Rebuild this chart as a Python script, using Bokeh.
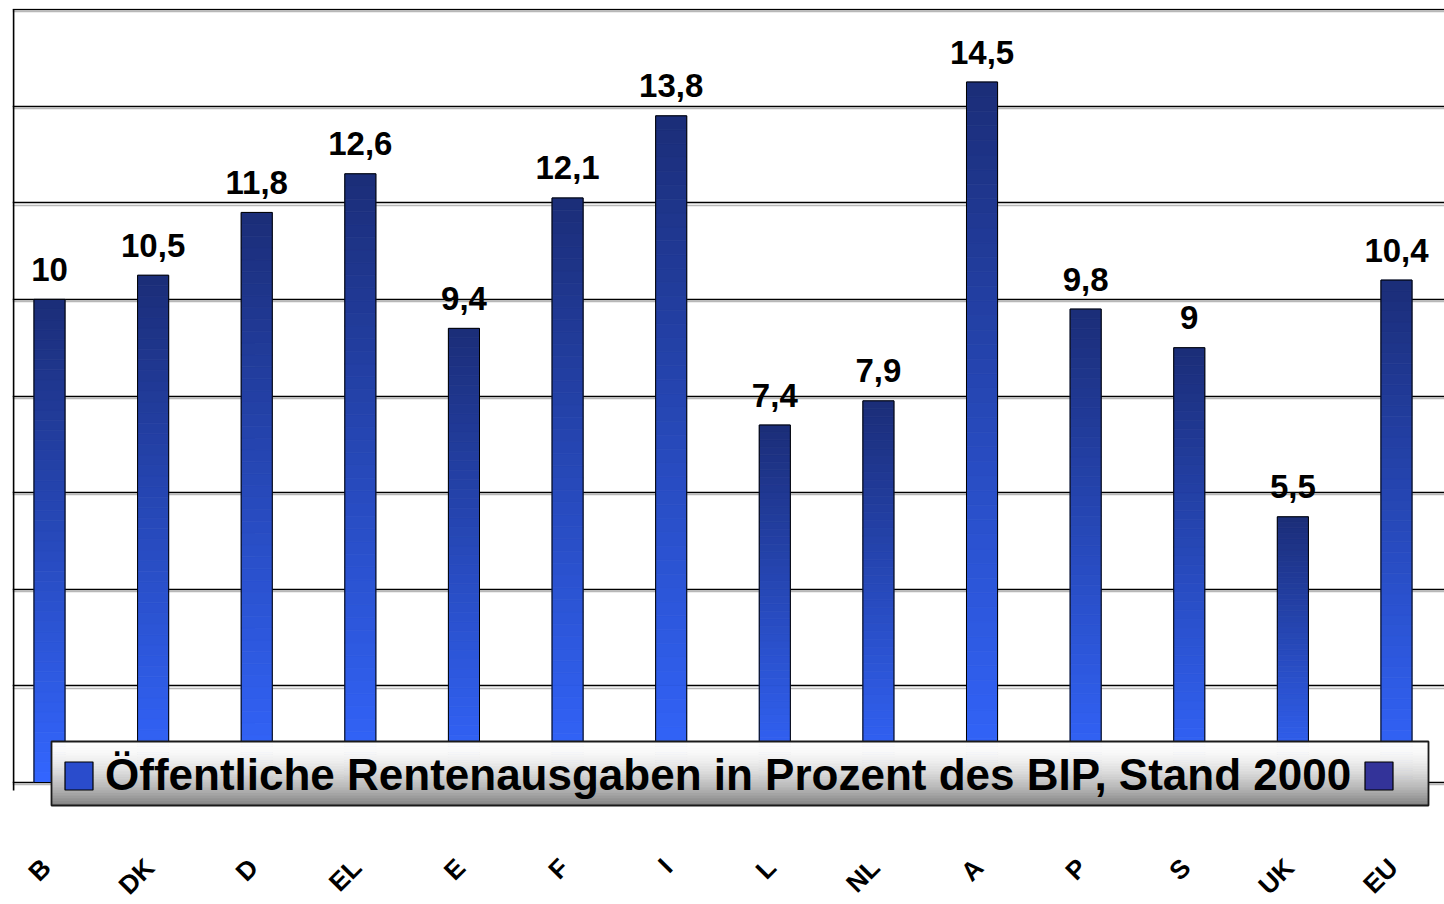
import numpy as np
from bokeh.plotting import figure
from bokeh.models import Range1d, FixedTicker, Legend, LegendItem, ColumnDataSource
from bokeh.core.properties import value
from bokeh.embed import file_html
from bokeh.resources import INLINE

# ---------------- data ----------------
categories = ["B", "DK", "D", "EL", "E", "F", "I", "L", "NL", "A", "P", "S", "UK", "EU"]
values = [10, 10.5, 11.8, 12.6, 9.4, 12.1, 13.8, 7.4, 7.9, 14.5, 9.8, 9, 5.5, 10.4]
y_ticks = [0, 2, 4, 6, 8, 10, 12, 14, 16]
series_name = "Öffentliche Rentenausgaben in Prozent des BIP, Stand 2000"

# ---------------- layout (pixels) ----------------
FRAME_W, FRAME_H = 1432, 895
PX_PER_Y = 48.31
PX_PER_X = 103.615
X0_PX = 37.0    # frame left -> first category centre
Y0_PX = 121.0   # frame bottom -> baseline

x_start = -X0_PX / PX_PER_X
x_end = x_start + FRAME_W / PX_PER_X
y_start = -Y0_PX / PX_PER_Y
y_end = y_start + FRAME_H / PX_PER_Y


def fx(px):
    return x_start + px / PX_PER_X


def fy(px):
    return y_start + px / PX_PER_Y


FONT = "Liberation Sans"
BAR_W = 0.30
TOP_C = np.array([0x1b, 0x2d, 0x78])
BOT_C = np.array([0x33, 0x66, 0xff])

p = figure(x_range=Range1d(x_start, x_end), y_range=Range1d(y_start, y_end),
           frame_width=FRAME_W, frame_height=FRAME_H,
           min_border_left=12, min_border_right=0, min_border_top=8, min_border_bottom=0,
           toolbar_location=None, output_backend="svg",
           outline_line_color=None, background_fill_color="white")

# grid
p.xgrid.visible = False
p.ygrid.ticker = FixedTicker(ticks=y_ticks)
p.ygrid.grid_line_color = "black"
p.ygrid.grid_line_width = 1.6
p.yaxis.visible = False
p.xaxis.visible = False

# grid shadow
p.hspan(y=[t - 2.3 / PX_PER_Y for t in y_ticks], line_color="#b8b8b8", line_width=1.5)

# gradient bars built from segments
N = 48
L, R, T, B, C = [], [], [], [], []
for i, v in enumerate(values):
    for k in range(N):
        t = (k + 0.5) / N
        col = BOT_C + (TOP_C - BOT_C) * t
        L.append(i - BAR_W / 2)
        R.append(i + BAR_W / 2)
        B.append(v * k / N)
        T.append(v * (k + 1) / N)
        C.append("#%02x%02x%02x" % tuple(int(round(c)) for c in col))
seg_src = ColumnDataSource(dict(left=L, right=R, top=T, bottom=B, color=C))
p.quad(left="left", right="right", top="top", bottom="bottom", source=seg_src,
       fill_color="color", line_color="color", line_width=0.8)

idx = list(range(len(categories)))
p.vbar(x=idx, top=values, width=BAR_W, bottom=0, fill_color=None,
       line_color="black", line_width=1)

labels = [("%g" % v).replace(".", ",") for v in values]
p.text(x=idx, y=values, text=labels, text_align="center", text_baseline="alphabetic",
       y_offset=-30, text_font=value(FONT), text_font_style="bold",
       text_font_size="33px", text_color="black")

# left axis line with short tick below baseline
xl = fx(1.0)
p.segment(x0=[xl], y0=[-8 / PX_PER_Y], x1=[xl], y1=[y_ticks[-1]],
          line_color="black", line_width=1.8)

# category labels (rotated), anchored at their upper-right end
lab_y = fy(51)
p.text(x=[i - 14 / PX_PER_X for i in idx], y=[lab_y] * len(idx), text=categories,
       angle=np.pi / 4, text_align="right", text_baseline="top",
       text_font=value(FONT), text_font_style="bold", text_font_size="26px",
       text_color="black")

# legend box background (gradient) in frame pixel space
LB_L, LB_R, LB_B, LB_T = 39, 1416, 98, 162
M = 40
gl, gr, gb, gt, gc = [], [], [], [], []
for k in range(M):
    t = (k + 0.5) / M   # 0 bottom, 1 top
    s = (1 - t) ** 1.7
    g = 255 - (255 - 0x80) * s
    gl.append(fx(LB_L)); gr.append(fx(LB_R))
    gb.append(fy(LB_B + (LB_T - LB_B) * k / M))
    gt.append(fy(LB_B + (LB_T - LB_B) * (k + 1) / M))
    gc.append("#%02x%02x%02x" % (int(g), int(g), int(g)))
p.quad(left=gl, right=gr, bottom=gb, top=gt, fill_color=gc, line_color=gc, line_width=0.8)
p.quad(left=[fx(LB_L)], right=[fx(LB_R)], bottom=[fy(LB_B)], top=[fy(LB_T)],
       fill_color=None, line_color="#1a1a1a", line_width=1.8)

# legend glyph renderers (placed outside the visible range)
off = x_end + 5
r1 = p.quad(left=[off], right=[off + 1], top=[1], bottom=[0], fill_color="#2a4ccc",
            line_color="black", line_width=1.2)
r2 = p.quad(left=[off], right=[off + 1], top=[1], bottom=[0], fill_color="#333399",
            line_color="black", line_width=1.2)

legend = Legend(items=[LegendItem(label=series_name, renderers=[r1]),
                       LegendItem(label=" ", renderers=[r2])],
                orientation="horizontal", location=(44, 98))
legend.label_text_font = FONT
legend.label_text_font_style = "bold"
legend.label_text_font_size = "44px"
legend.label_text_color = "black"
legend.glyph_width = 35
legend.glyph_height = 35
legend.label_standoff = 9
legend.spacing = 10
legend.padding = 5
legend.margin = 0
legend.background_fill_alpha = 0
legend.border_line_alpha = 0
p.add_layout(legend)

open("out.html", "w").write(file_html(p, INLINE))
